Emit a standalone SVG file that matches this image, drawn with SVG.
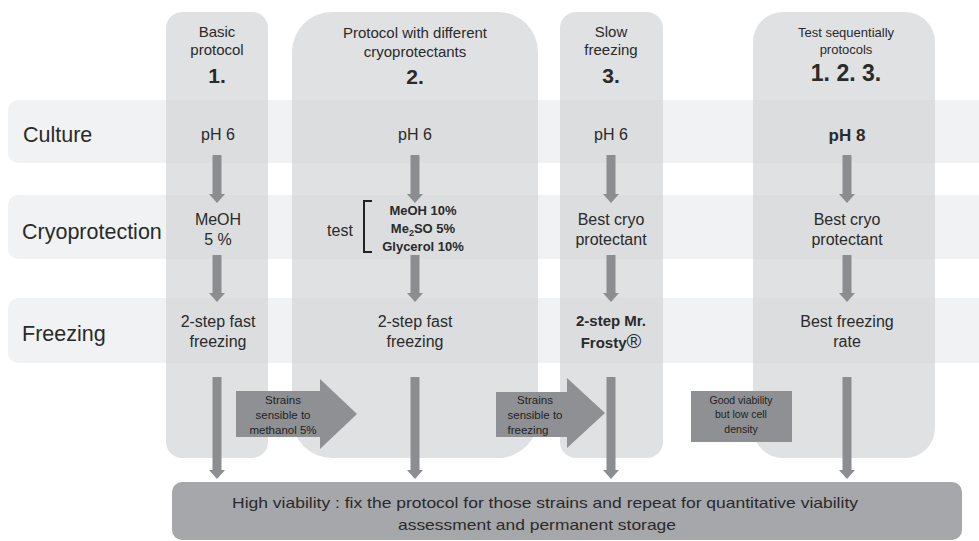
<svg xmlns="http://www.w3.org/2000/svg" width="979" height="541" viewBox="0 0 979 541">
<style>
text{font-family:"Liberation Sans",Arial,sans-serif;fill:#2a2a2a}
.row{fill:#f1f2f3}
.col{fill:#cfd1d4;fill-opacity:0.65}
.lbl{font-size:21.5px}
.t{font-size:16px;text-anchor:middle}
.h{font-size:15px;text-anchor:middle}
.n{font-size:21px;font-weight:bold;text-anchor:middle}
.b{font-weight:bold}
.s{font-size:11.5px;text-anchor:middle;fill:#222}
.arr{stroke:#8c8d90;stroke-width:9;fill:none;marker-end:url(#ah)}
.blk{fill:#8f9093}
</style>
<defs>
<marker id="ah" viewBox="0 0 9 16" refX="0" refY="8" markerWidth="9" markerHeight="16" markerUnits="userSpaceOnUse" orient="auto">
<path d="M0,0 L9,8 L0,16 z" fill="#8c8d90"/>
</marker>
</defs>
<g id="rows">
<rect class="row" x="8" y="100" width="990" height="63" rx="10"/>
<rect class="row" x="8" y="195" width="990" height="64" rx="10"/>
<rect class="row" x="8" y="298" width="990" height="65" rx="10"/>
<text class="lbl" x="23" y="142">Culture</text>
<text class="lbl" x="22" y="239">Cryoprotection</text>
<text class="lbl" x="22" y="341">Freezing</text>
</g>
<g id="col1">
<rect class="col" x="166" y="12" width="102" height="446" rx="16"/>
<text class="h" x="217" y="37">Basic</text>
<text class="h" x="217" y="55">protocol</text>
<text class="n" x="217" y="83">1.</text>
<text class="t" x="218" y="140">pH 6</text>
<text class="t" x="218" y="225">MeOH</text>
<text class="t" x="218" y="245">5 %</text>
<text class="t" x="218" y="327">2-step fast</text>
<text class="t" x="218" y="347">freezing</text>
</g>
<g id="col2">
<rect class="col" x="292" y="12" width="246" height="446" rx="40"/>
<text class="h" x="415" y="38">Protocol  with different</text>
<text class="h" x="415" y="57">cryoprotectants</text>
<text class="n" x="415" y="84">2.</text>
<text class="t" x="415" y="140">pH 6</text>
<text class="t" x="340" y="236">test</text>
<path d="M372,201 L364,201 L364,252 L372,252" fill="none" stroke="#222" stroke-width="2"/>
<text class="t b" x="423" y="215" style="font-size:13px">MeOH 10%</text>
<text class="t b" x="423" y="233" style="font-size:13px">Me<tspan dy="3" style="font-size:9px">2</tspan><tspan dy="-3">SO 5%</tspan></text>
<text class="t b" x="423" y="251" style="font-size:13px">Glycerol 10%</text>
<text class="t" x="415" y="327">2-step fast</text>
<text class="t" x="415" y="347">freezing</text>
</g>
<g id="col3">
<rect class="col" x="560" y="12" width="103" height="446" rx="16"/>
<text class="h" x="611" y="37">Slow</text>
<text class="h" x="611" y="55">freezing</text>
<text class="n" x="611" y="83">3.</text>
<text class="t" x="611" y="140">pH 6</text>
<text class="t" x="611" y="225">Best cryo</text>
<text class="t" x="611" y="245">protectant</text>
<text class="t b" x="611" y="326" style="font-size:15px">2-step Mr.</text>
<text class="t b" x="611" y="348" style="font-size:15px">Frosty<tspan style="font-size:20px;font-weight:normal">®</tspan></text>
</g>
<g id="col4">
<rect class="col" x="753" y="12" width="182" height="446" rx="30"/>
<text class="h" x="846" y="37" style="font-size:13px">Test sequentially</text>
<text class="h" x="846" y="54" style="font-size:13px">protocols</text>
<text class="n" x="846" y="81" style="font-size:23px">1. 2. 3.</text>
<text class="t b" x="847" y="141" style="font-size:17px">pH 8</text>
<text class="t" x="847" y="225">Best cryo</text>
<text class="t" x="847" y="245">protectant</text>
<text class="t" x="847" y="327">Best freezing</text>
<text class="t" x="847" y="347">rate</text>
</g>
<g id="connectors">
<line class="arr" x1="217" y1="155" x2="217" y2="194"/>
<line class="arr" x1="217" y1="255" x2="217" y2="293"/>
<line class="arr" x1="217" y1="377" x2="217" y2="470"/>
<line class="arr" x1="415" y1="155" x2="415" y2="194"/>
<line class="arr" x1="415" y1="255" x2="415" y2="293"/>
<line class="arr" x1="415" y1="377" x2="415" y2="470"/>
<line class="arr" x1="611" y1="155" x2="611" y2="194"/>
<line class="arr" x1="611" y1="255" x2="611" y2="293"/>
<line class="arr" x1="611" y1="377" x2="611" y2="470"/>
<line class="arr" x1="847" y1="155" x2="847" y2="194"/>
<line class="arr" x1="847" y1="255" x2="847" y2="293"/>
<line class="arr" x1="847" y1="377" x2="847" y2="470"/>
</g>
<g id="strains-methanol">
<path class="blk" d="M236,391 L320,391 L320,379 L357,414 L320,449 L320,437 L236,437 z"/>
<text class="s" x="283" y="404">Strains</text>
<text class="s" x="283" y="419">sensible  to</text>
<text class="s" x="283" y="434">methanol  5%</text>
</g>
<g id="strains-freezing">
<path class="blk" d="M496,392 L567,392 L567,378 L605,413 L567,448 L567,437 L496,437 z"/>
<text class="s" x="535" y="404">Strains</text>
<text class="s" x="535" y="419">sensible to</text>
<text class="s" x="528" y="434">freezing</text>
</g>
<g id="good-viability">
<rect class="blk" x="691" y="391" width="101" height="51"/>
<text class="s" x="741" y="404" style="font-size:10.5px">Good viability</text>
<text class="s" x="741" y="418" style="font-size:10.5px">but low cell</text>
<text class="s" x="741" y="433" style="font-size:10.5px">density</text>
</g>
<g id="high-viability">
<rect x="172" y="482" width="790" height="58" rx="10" fill="#a6a7aa"/>
<text x="545" y="508" style="font-size:15px;text-anchor:middle" textLength="626" lengthAdjust="spacingAndGlyphs">High viability : fix the protocol for those strains and repeat for quantitative viability</text>
<text x="537" y="530" style="font-size:15px;text-anchor:middle" textLength="278" lengthAdjust="spacingAndGlyphs">assessment and permanent storage</text>
</g>
</svg>
